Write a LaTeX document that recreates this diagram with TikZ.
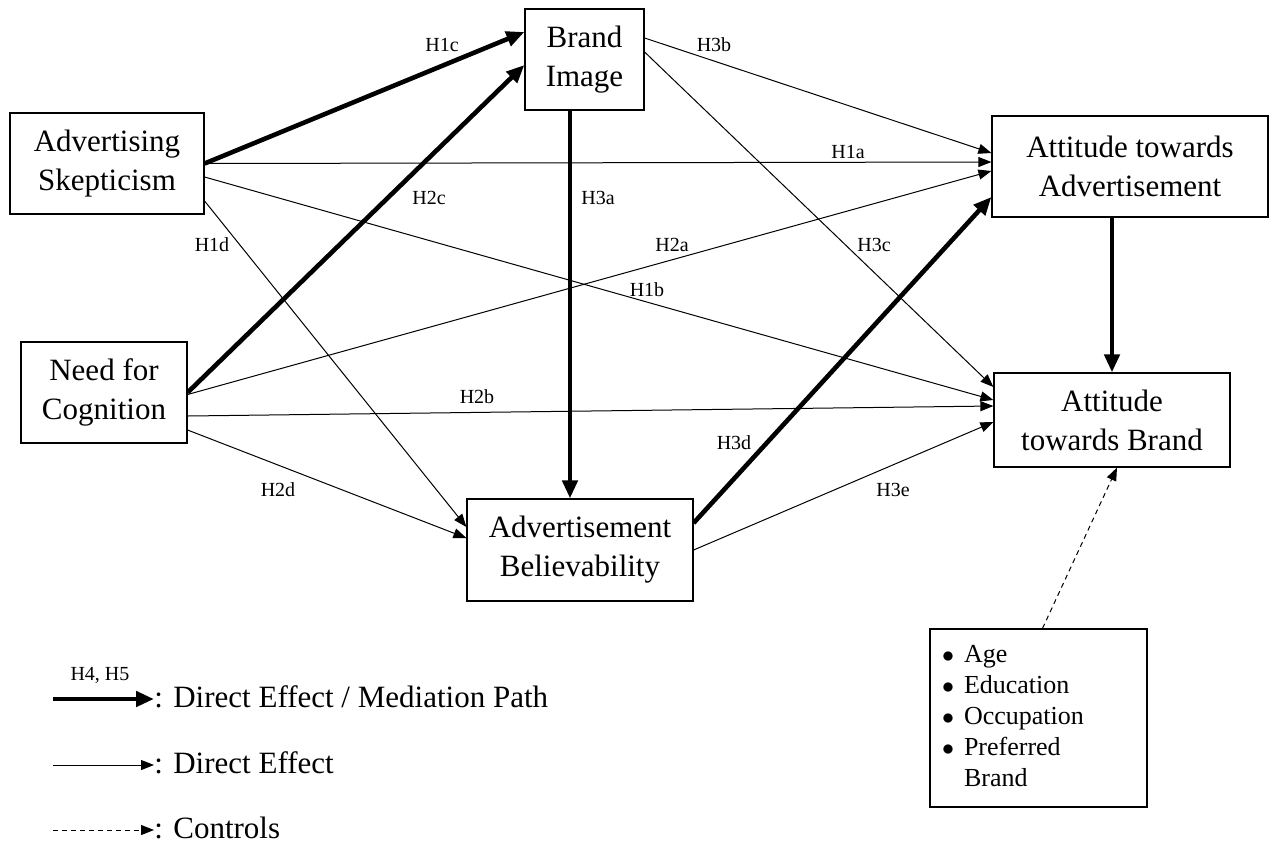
\documentclass[tikz,border=0pt]{standalone}
\usepackage{fontspec}
\setmainfont{Liberation Serif}
\usetikzlibrary{arrows.meta}

\newcommand\boxfont{\fontsize{15.5}{19.5}\selectfont}
\newcommand\hypfont{\fontsize{10}{12}\selectfont}
\newcommand\listfont{\fontsize{13}{15.5}\selectfont}

\begin{document}
\begin{tikzpicture}[x=0.5pt, y=-0.5pt,
    box/.style 2 args = {draw, line width=0.6pt, align=center, font=\boxfont,
                minimum width=#1, minimum height=#2, inner sep=0pt},
    hyp/.style = {font=\hypfont, inner sep=0pt},
    direct/.style = {-{Triangle[length=6.5pt,width=5pt]}, line width=0.5pt},
    mediation/.style = {-{Triangle[length=9pt,width=7.5pt]}, line width=2.3pt},
    control/.style = {direct, dash pattern=on 2.5pt off 2pt}  % dashed controls
                    ]
    \useasboundingbox (0,0) rectangle (1276,848);
    \node[box={97pt}{50.5pt}] at (107,163.5) (as) {Advertising\\Skepticism};
    \node[box={59.5pt}{50.5pt}] at (584.5,59.5) (bi) {Brand\\Image};
    \node[box={138pt}{50.5pt}] at (1130,166.5) (ata) {Attitude towards\\Advertisement};
    \node[box={83pt}{50.5pt}] at (104,392.5) (nfc) {Need for\\Cognition};
    \node[box={118pt}{47pt}] at (1112,420) (atb) {Attitude\\towards Brand};
    \node[box={113pt}{51pt}] at (580,550) (ab) {Advertisement\\Believability};
    \node[box={108.5pt}{89pt}, font=\listfont, text width=96.5pt, align=left]
        at (1038.5,718) (ctrl) {\begin{tabular}{@{}l@{\hspace{5pt}}l@{}}
        $\bullet$ & Age\\ $\bullet$ & Education\\ $\bullet$ & Occupation\\
        $\bullet$ & Preferred\\ & Brand\end{tabular}};
    \coordinate (h3a) at ([xshift=-7.25pt]bi.south);
    \draw[mediation] (as.east) -- ([yshift=13.75pt]bi.west);
    \draw[mediation] (nfc.east) -- ([yshift=-2.75pt]bi.west);
    \draw[direct] (as.east) -- ([yshift=2.25pt]ata.west);
    \draw[direct] ([yshift=-6.75pt]as.east) -- ([yshift=10pt]atb.west);
    \draw[direct] ([yshift=-18.75pt]as.east) -- ([yshift=11.5pt]ab.west);
    \draw[mediation] (h3a) -- (h3a |- ab.north);
    \draw[direct] ([yshift=10.75pt]bi.east) -- ([yshift=6.75pt]ata.west);
    \draw[direct] ([yshift=3.75pt]bi.east) -- ([yshift=16.5pt]atb.west);
    \draw[direct] ([yshift=-1pt]nfc.east) -- ([yshift=-2.25pt]ata.west);
    \draw[direct] ([yshift=-11.75pt]nfc.east) -- ([yshift=7pt]atb.west);
    \draw[direct] ([yshift=-18.75pt]nfc.east) -- ([yshift=6pt]ab.west);
    \draw[mediation] ([yshift=13.5pt]ab.east) -- ([yshift=-15.25pt]ata.west);
    \draw[direct] (ab.east) -- ([yshift=-1pt]atb.west);
    \draw[mediation] (ata.south -| atb.north) -- (atb.north);
    \draw[control] ([xshift=2pt]ctrl.north) -- ([xshift=2.5pt]atb.south);
    \node[hyp] at (442,45) (l1c) {H1c};
    \node[hyp] at (429,198) (l2c) {H2c};
    \node[hyp] at (598,198) (l3a) {H3a};
    \node[hyp] at (212,245) (l1d) {H1d};
    \node[hyp] at (672,245) (l2a) {H2a};
    \node[hyp] at (647,290) (l1b) {H1b};
    \node[hyp] at (714,45) (l3b) {H3b};
    \node[hyp] at (848,152) (l1a) {H1a};
    \node[hyp] at (874,245) (l3c) {H3c};
    \node[hyp] at (477,397) (l2b) {H2b};
    \node[hyp] at (278,490) (l2d) {H2d};
    \node[hyp] at (734,443) (l3d) {H3d};
    \node[hyp] at (893,490) (l3e) {H3e};
    % legend
    \coordinate (k1) at (53,699);
    \coordinate (k2) at (53,765);
    \coordinate (k3) at (53,830);
    \node[anchor=west, font=\boxfont, inner sep=0pt] at (154,697) (t1) {: Direct Effect / Mediation Path};
    \node[anchor=west, font=\boxfont, inner sep=0pt] at (154,763) (t2) {: Direct Effect};
    \node[anchor=west, font=\boxfont, inner sep=0pt] at (154,828) (t3) {: Controls};
    \node[hyp] at (100,675) (t0) {H4, H5};
    \draw[mediation] (k1) -- (k1 -| t1.west);
    \draw[direct] (k2) -- (k2 -| t2.west);
    \draw[control] (k3) -- (k3 -| t3.west);
\end{tikzpicture}
\end{document}
